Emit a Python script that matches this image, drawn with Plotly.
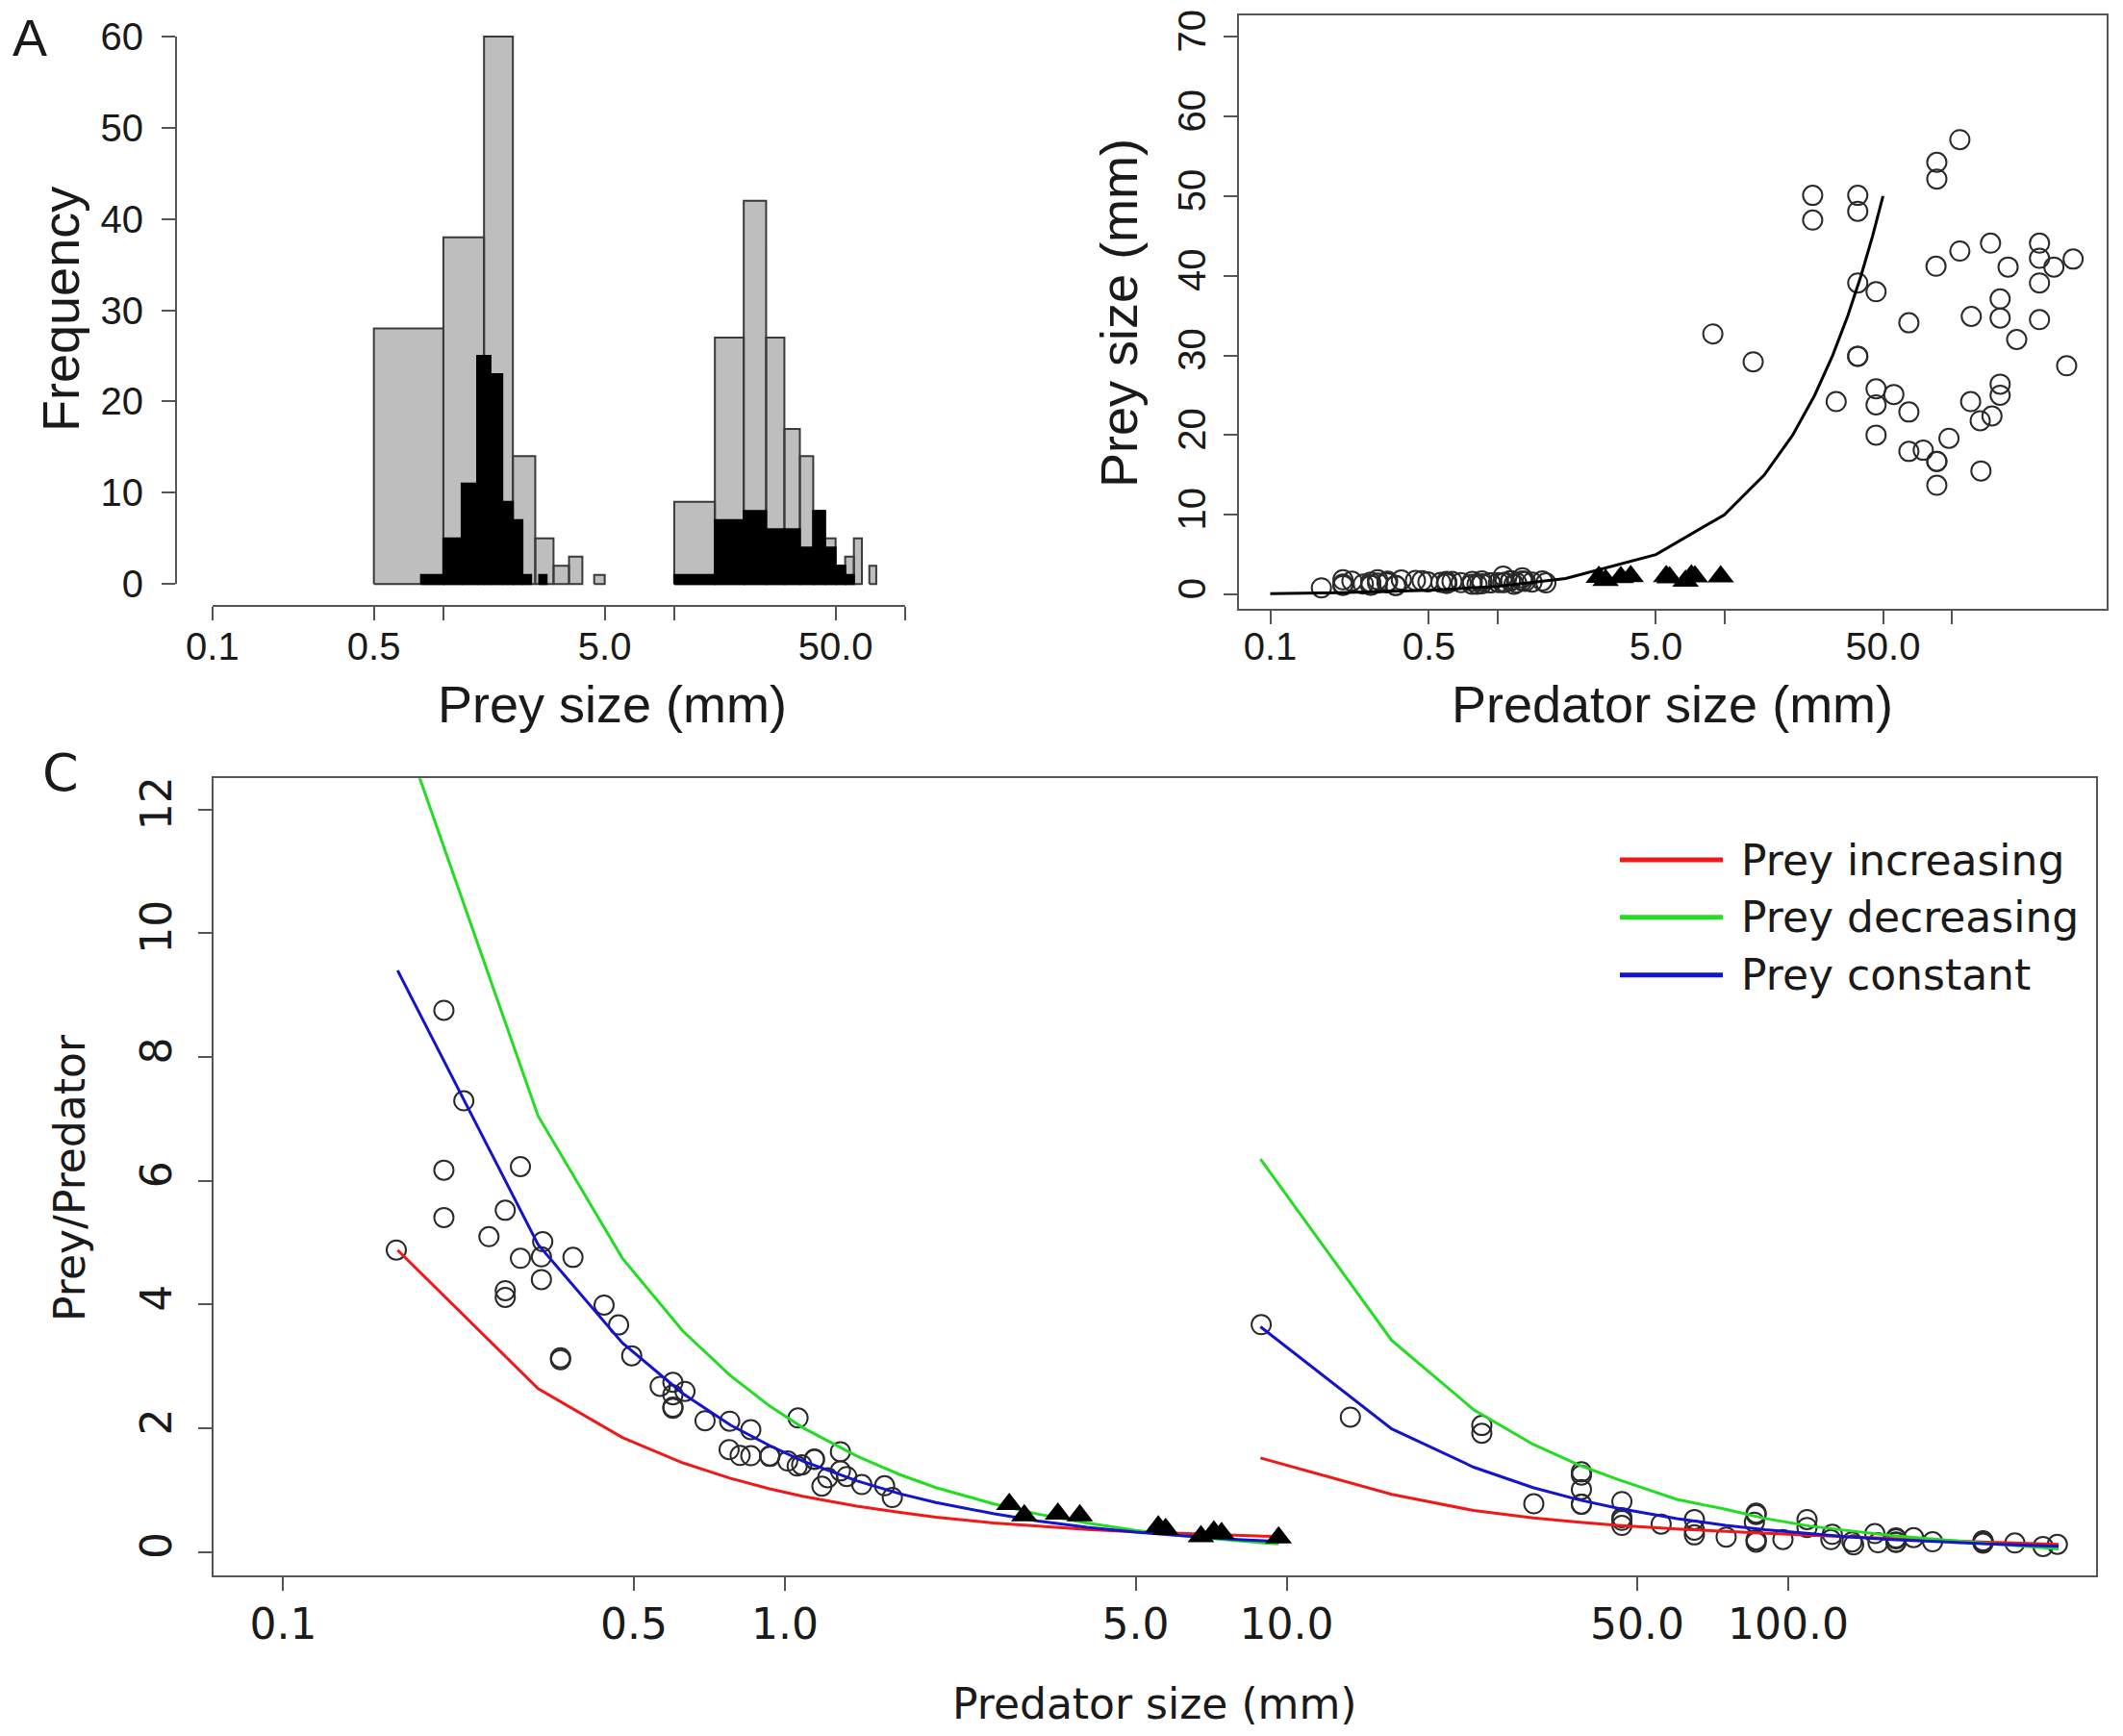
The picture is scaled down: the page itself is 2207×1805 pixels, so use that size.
import plotly.graph_objects as go

W, H = 2207, 1805

# ---------------- Panel A: prey size histograms ----------------
gray_edges_small = [0.5, 1.0, 1.5, 2.0, 2.5, 3.0, 3.5, 4.0, 4.5, 5.0]
gray_counts_small = [28, 38, 60, 14, 5, 2, 3, 0, 1]
gray_edges_large = [10, 15, 20, 25, 30, 35, 40, 45, 50, 55, 60, 65, 70, 75]
gray_counts_large = [9, 27, 42, 27, 17, 14, 8, 5, 2, 3, 5, 0, 2]
black_edges_small = [0.8, 1.0, 1.2, 1.4, 1.6, 1.8, 2.0, 2.2, 2.4, 2.6, 2.8]
black_counts_small = [1, 5, 11, 25, 23, 9, 7, 1, 0, 1]
black_edges_large = [10, 15, 20, 25, 30, 35, 40, 45, 50, 55, 60]
black_counts_large = [1, 7, 8, 6, 6, 4, 8, 4, 2, 1]

# ---------------- Predator / prey sizes (mm) ----------------
pred_small = [0.168, 0.209, 0.229, 0.209, 0.209, 0.297, 0.277, 0.257, 0.329, 0.327,
              0.297, 0.378, 0.327, 0.277, 0.277, 0.436, 0.466, 0.495, 0.357, 0.357,
              0.564, 0.598, 0.632, 0.598, 0.598, 0.598, 0.693, 0.776, 0.855, 1.062,
              0.774, 0.814, 0.855, 0.933, 0.933, 1.013, 1.058, 1.080, 1.145, 1.145,
              1.290, 1.185, 1.217, 1.290, 1.328, 1.423, 1.580, 1.637]
prey_small = [0.82, 1.83, 1.67, 1.29, 1.13, 1.85, 1.53, 1.31, 1.65, 1.56,
              1.41, 1.80, 1.44, 1.17, 1.14, 1.74, 1.71, 1.57, 1.12, 1.11,
              1.51, 1.64, 1.64, 1.52, 1.40, 1.39, 1.47, 1.64, 1.69, 2.30,
              1.28, 1.27, 1.33, 1.45, 1.44, 1.49, 1.47, 1.52, 1.72, 1.71,
              2.09, 1.26, 1.46, 1.69, 1.62, 1.55, 1.69, 1.44]

pred_tri = [2.80, 3.00, 3.50, 3.87, 5.55, 5.74, 6.75, 7.16, 7.42, 9.64]
prey_tri = [2.16, 1.77, 2.15, 2.28, 2.28, 2.12, 1.69, 2.36, 2.23, 2.22]

pred_large = [8.9, 13.4, 24.5, 24.5, 31.1, 38.7, 38.7, 38.7, 38.7, 38.7,
              46.6, 46.6, 46.6, 46.6, 55.8, 65.0, 65.0, 65.0, 75.2, 85.6,
              86.3, 86.3, 86.3, 86.3, 86.3, 97.6, 109, 109, 121.6, 122.4,
              134, 135, 148.8, 151, 164, 164, 164, 164, 177.8, 194,
              244.5, 244.5, 244.5, 244.5, 283, 322, 343.9]
prey_large = [32.7, 29.2, 50.1, 47.0, 24.2, 50.1, 48.1, 39.1, 29.9, 29.9,
              38.0, 25.8, 23.8, 20.0, 25.1, 34.1, 22.9, 17.95, 18.1, 41.2,
              54.25, 52.15, 16.7, 16.7, 13.7, 19.6, 57.1, 43.1, 24.2, 34.9,
              21.8, 15.5, 44.1, 22.4, 37.1, 34.7, 26.4, 25.0, 41.1, 32.0,
              44.1, 42.2, 39.1, 34.5, 41.1, 28.7, 42.1]

# Prey = predator reference line (panel B)
ref_pred = [0.1, 0.2, 0.5, 1, 2, 5, 10, 15, 20, 25, 30, 35, 40, 45, 50]
ref_prey = [0.1, 0.2, 0.5, 1, 2, 5, 10, 15, 20, 25, 30, 35, 40, 45, 50]

# ---------------- Panel C: model ratio curves ----------------
curve_pred_left = [0.169, 0.322, 0.474, 0.626, 0.779, 0.932, 1.085, 1.39, 1.695, 2.0,
                   2.6, 3.2, 4.0, 5.0, 6.0, 7.0, 8.0, 9.0, 9.64]
curve_pred_right = [8.87, 16.2, 23.6, 31.0, 38.4, 45.8, 60, 75, 90, 110,
                    130, 160, 200, 250, 300, 346]
increasing_left = [4.88, 2.64, 1.85, 1.44, 1.19, 1.02, 0.90, 0.74, 0.64, 0.56,
                   0.47, 0.415, 0.365, 0.325, 0.30, 0.28, 0.266, 0.255, 0.249]
decreasing_left = [13.53, 7.05, 4.75, 3.57, 2.85, 2.36, 2.01, 1.55, 1.25, 1.04,
                   0.78, 0.61, 0.47, 0.35, 0.275, 0.22, 0.18, 0.147, 0.13]
constant_left = [9.40, 4.97, 3.38, 2.56, 2.05, 1.72, 1.47, 1.15, 0.94, 0.80,
                 0.62, 0.50, 0.40, 0.32, 0.27, 0.23, 0.20, 0.18, 0.17]
increasing_right = [1.52, 0.93, 0.67, 0.55, 0.48, 0.43, 0.37, 0.33, 0.30, 0.27,
                    0.245, 0.215, 0.185, 0.158, 0.138, 0.122]
decreasing_right = [6.35, 3.42, 2.30, 1.74, 1.40, 1.17, 0.85, 0.69, 0.54, 0.42,
                    0.35, 0.265, 0.20, 0.135, 0.085, 0.05]
constant_right = [3.64, 1.99, 1.37, 1.04, 0.84, 0.705, 0.54, 0.43, 0.36, 0.294,
                  0.248, 0.202, 0.162, 0.129, 0.108, 0.093]

series_names = ["Prey increasing", "Prey decreasing", "Prey constant"]
series_colors = ["#f01818", "#22dd22", "#1414cc"]

log_ticks = [0.1, 0.5, 1, 5, 10, 50, 100]
ab_ticktext = ["0.1", "0.5", "", "5.0", "", "50.0", ""]
c_ticktext = ["0.1", "0.5", "1.0", "5.0", "10.0", "50.0", "100.0"]

SANS_AB = "Liberation Sans, Arial, sans-serif"
SANS_C = "DejaVu Sans, sans-serif"
INK = "#1a1a1a"
AXC = "#555555"


def px(xp):
    return xp / W


def py(yp):
    return 1 - yp / H


def bar_outline(edges, counts):
    xs, ys = [], []
    for i, c in enumerate(counts):
        if c <= 0:
            continue
        lo, hi = edges[i], edges[i + 1]
        xs += [lo, lo, hi, hi, lo, None]
        ys += [0, c, c, 0, 0, None]
    return xs, ys


fig = go.Figure()

# --- A: gray histogram (all prey), black histogram (subset) on top
for edges, counts in [(gray_edges_small, gray_counts_small), (gray_edges_large, gray_counts_large)]:
    bx, by = bar_outline(edges, counts)
    fig.add_trace(go.Scatter(x=bx, y=by, mode="lines", fill="toself",
                             fillcolor="#bebebe", line=dict(color="#3a3a3a", width=2),
                             xaxis="x", yaxis="y", hoverinfo="skip"))
for edges, counts in [(black_edges_small, black_counts_small), (black_edges_large, black_counts_large)]:
    bx, by = bar_outline(edges, counts)
    fig.add_trace(go.Scatter(x=bx, y=by, mode="lines", fill="toself",
                             fillcolor="#000000", line=dict(color="#000000", width=2),
                             xaxis="x", yaxis="y", hoverinfo="skip"))

# --- B: prey vs predator size
circle = dict(symbol="circle-open", size=20, color="#2a2a2a", line=dict(width=2, color="#2a2a2a"))
tri = dict(symbol="triangle-up", size=24, color="#000000")
fig.add_trace(go.Scatter(x=pred_small + pred_large, y=prey_small + prey_large, mode="markers",
                         marker=circle, xaxis="x2", yaxis="y2"))
fig.add_trace(go.Scatter(x=pred_tri, y=prey_tri, mode="markers", marker=tri,
                         xaxis="x2", yaxis="y2"))
fig.add_trace(go.Scatter(x=ref_pred, y=ref_prey, mode="lines",
                         line=dict(color="#000000", width=3), xaxis="x2", yaxis="y2"))

# --- C: prey/predator ratio
ratio_pred = pred_small + pred_large
ratio_vals = [py_ / pp for py_, pp in zip(prey_small + prey_large, ratio_pred)]
fig.add_trace(go.Scatter(x=ratio_pred, y=ratio_vals, mode="markers", marker=circle,
                         xaxis="x3", yaxis="y3"))
curves = [(increasing_left, increasing_right), (decreasing_left, decreasing_right),
          (constant_left, constant_right)]
for (left, right), name, col in zip(curves, series_names, series_colors):
    fig.add_trace(go.Scatter(x=curve_pred_left + [None] + curve_pred_right,
                             y=left + [None] + right, mode="lines", name=name,
                             line=dict(color=col, width=3), xaxis="x3", yaxis="y3"))
fig.add_trace(go.Scatter(x=pred_tri, y=[a / b for a, b in zip(prey_tri, pred_tri)],
                         mode="markers", marker=tri, xaxis="x3", yaxis="y3"))

tick_common = dict(ticks="outside", ticklen=14, tickwidth=2, tickcolor=AXC,
                   showgrid=False, zeroline=False)

layout = dict(
    width=W, height=H, margin=dict(l=0, r=0, t=0, b=0),
    paper_bgcolor="white", plot_bgcolor="white", showlegend=False,
    xaxis=dict(domain=[px(183), px(1089)], type="log", range=[-1.158, 2.617],
               tickmode="array", tickvals=log_ticks, ticktext=ab_ticktext,
               showline=False, anchor="y", ticklabelstandoff=-7,
               tickfont=dict(family=SANS_AB, size=40, color=INK), **tick_common),
    yaxis=dict(domain=[py(626), py(9.3)], range=[-2.4, 62.4],
               tickmode="array", tickvals=[0, 10, 20, 30, 40, 50, 60],
               showline=False, anchor="x", ticklabelstandoff=11,
               tickfont=dict(family=SANS_AB, size=40, color=INK), **tick_common),
    xaxis2=dict(domain=[px(1288), px(2190)], type="log", range=[-1.1377, 2.684],
                tickmode="array", tickvals=log_ticks, ticktext=ab_ticktext,
                showline=True, mirror=True, linecolor=AXC, linewidth=2, anchor="y2",
                ticklabelstandoff=-11,
                tickfont=dict(family=SANS_AB, size=40, color=INK), **tick_common),
    yaxis2=dict(domain=[py(629), py(10)], range=[-1.8, 72.7],
                tickmode="array", tickvals=[0, 10, 20, 30, 40, 50, 60, 70], tickangle=-90,
                showline=True, mirror=True, linecolor=AXC, linewidth=2, anchor="x2",
                ticklabelstandoff=3,
                tickfont=dict(family=SANS_AB, size=40, color=INK), **tick_common),
    xaxis3=dict(domain=[px(222), px(2179)], type="log", range=[-1.139, 2.6136],
                tickmode="array", tickvals=log_ticks, ticktext=c_ticktext,
                showline=True, mirror=True, linecolor=AXC, linewidth=2, anchor="y3",
                ticklabelstandoff=-2,
                tickfont=dict(family=SANS_C, size=44, color=INK), **tick_common),
    yaxis3=dict(domain=[py(1637), py(806)], range=[-0.372, 12.505],
                tickmode="array", tickvals=[0, 2, 4, 6, 8, 10, 12], tickangle=-90,
                showline=True, mirror=True, linecolor=AXC, linewidth=2, anchor="x3",
                ticklabelstandoff=10,
                tickfont=dict(family=SANS_C, size=44, color=INK), **tick_common),
)
fig.update_layout(**layout)

# Detached axis lines for panel A (R style: span the tick range only)
fig.add_shape(type="line", xref="x domain", yref="y", x0=0, x1=0, y0=0, y1=60,
              line=dict(color=AXC, width=2))
fig.add_shape(type="line", xref="x", yref="y domain", x0=log_ticks[0], x1=log_ticks[-1],
              y0=0, y1=0, line=dict(color=AXC, width=2))

# Legend for panel C
legend_rows = [891, 951, 1011]
for name, col, yrow in zip(series_names, series_colors, legend_rows):
    fig.add_shape(type="line", xref="paper", yref="paper", x0=px(1684), x1=px(1791),
                  y0=py(yrow), y1=py(yrow), line=dict(color=col, width=5))
    fig.add_annotation(x=px(1808), y=py(yrow), xref="paper", yref="paper", text=name,
                       showarrow=False, xanchor="left", yanchor="middle",
                       font=dict(family=SANS_C, size=44, color=INK))


def label(text, x, y, size, family, angle=0):
    fig.add_annotation(x=px(x), y=py(y), xref="paper", yref="paper", text=text,
                       showarrow=False, xanchor="center", yanchor="middle", textangle=angle,
                       font=dict(family=family, size=size, color=INK))


label("A", 31, 33, 54, SANS_AB)
label("Frequency", 63, 317, 54, SANS_AB, -90)
label("Prey size (mm)", 636, 728, 54, SANS_AB)
label("Prey size (mm)", 1163, 321, 54, SANS_AB, -90)
label("Predator size (mm)", 1738, 728, 54, SANS_AB)
label("C", 63, 800, 54, SANS_C)
label("Prey/Predator", 73, 1223, 44, SANS_C, -90)
label("Predator size (mm)", 1200, 1771, 44, SANS_C)

fig.write_html("out.html")
